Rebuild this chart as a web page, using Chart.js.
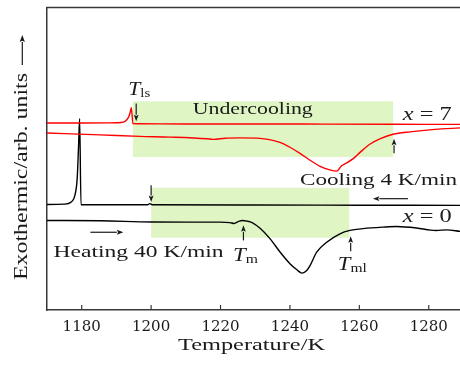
<!DOCTYPE html>
<html><head><meta charset="utf-8">
<script src="https://cdn.jsdelivr.net/npm/chart.js@4.4.1/dist/chart.umd.min.js"></script>
<style>html,body{margin:0;padding:0;background:#fff;overflow:hidden}#wrap{width:460px;height:365px}</style>
</head><body><div id="wrap"><canvas id="c" width="460" height="365" style="width:460px;height:365px"></canvas></div>
<script>
// ---- data (temperature in K, signal in arbitrary units) ----
const tempTicks = [1180, 1200, 1220, 1240, 1260, 1280];

const x7CoolT = [1170, 1180, 1188, 1190, 1192, 1193, 1193.6, 1194.0, 1194.3, 1194.75, 1196, 1210, 1230, 1250, 1270, 1289];
const x7CoolV = [61.8, 61.8, 61.85, 61.9, 62.1, 62.9, 64.0, 65.5, 66.9, 61.6, 61.55, 61.5, 61.5, 61.45, 61.4, 61.35];

const x7HeatT = [1170, 1185.3, 1196.8, 1205.5, 1216.1, 1217.9, 1221.3, 1225.6, 1231.4, 1233.7, 1237.1, 1240, 1242.9, 1245.8, 1248.7, 1251.5, 1253.5, 1254.8, 1256.5, 1258.5, 1260.2, 1263.0, 1265.9, 1269.7, 1274.6, 1281.8, 1289];
const x7HeatV = [58.5, 57.9, 57.4, 57.15, 56.6, 56.4, 56.8, 56.9, 56.75, 56.4, 55.4, 53.8, 51.8, 49.5, 47.5, 46.3, 45.9, 47.6, 48.7, 50.3, 52.1, 54.8, 56.6, 58.1, 58.9, 59.7, 60.2];

const x0CoolT = [1170, 1175, 1177, 1178.1, 1178.7, 1179.1, 1179.4, 1179.8, 1190, 1199.0, 1199.6, 1200.3, 1230, 1260, 1289];
const x0CoolV = [34.9, 35.0, 35.7, 38.2, 43.5, 54.4, 63.2, 34.8, 34.8, 34.8, 35.15, 34.8, 34.7, 34.65, 34.6];

const x0HeatT = [1170, 1185.3, 1200.2, 1212, 1219.9, 1222.7, 1223.9, 1225.4, 1226.4, 1227.6, 1229.1, 1231.4, 1234.3, 1237.2, 1240.0, 1242.1, 1243.4, 1244.6, 1245.8, 1247.7, 1250.6, 1254.4, 1257.3, 1261.1, 1266.9, 1270.7, 1276.5, 1280.5, 1282.2, 1285.1, 1289];
const x0HeatV = [29.6, 29.5, 29.1, 29.05, 29.05, 28.9, 28.6, 29.4, 29.6, 29.4, 28.9, 27.0, 23.5, 19.1, 15.3, 13.2, 12.2, 12.8, 14.7, 19.1, 22.4, 25.2, 26.3, 26.9, 27.4, 27.6, 27.1, 26.4, 26.3, 26.5, 26.0];

// shaded undercooling ranges [Tstart, Tend, vLow, vHigh]
const shadeX7 = [1194.75, 1269.75, 50.6, 69.0];
const shadeX0 = [1200.0, 1257.1, 23.9, 40.4];

const pts = (t, v) => t.map((x, i) => ({x, y: v[i]}));

const SERIF = '"Liberation Serif", "Times New Roman", serif';
const INK = '#1a1a1a';

function runs(ctx, parts, x, y, targetW) {
  let total = 0;
  const ws = parts.map(p => {
    ctx.font = (p.italic ? 'italic ' : '') + p.size + 'px ' + SERIF;
    const w = ctx.measureText(p.t).width; total += w; return w;
  });
  const sx = targetW / total;
  ctx.save();
  ctx.translate(x, y); ctx.scale(sx, 1);
  ctx.fillStyle = INK; ctx.textBaseline = 'alphabetic'; ctx.textAlign = 'left';
  let cx = 0;
  parts.forEach((p, i) => {
    ctx.font = (p.italic ? 'italic ' : '') + p.size + 'px ' + SERIF;
    ctx.fillText(p.t, cx, p.dy || 0); cx += ws[i];
  });
  ctx.restore();
}

function arrow(ctx, x1, y1, x2, y2, hl = 6.5, hw = 2.4) {
  const a = Math.atan2(y2 - y1, x2 - x1);
  const bx = x2 - hl * Math.cos(a), by = y2 - hl * Math.sin(a);
  ctx.save();
  ctx.strokeStyle = INK; ctx.fillStyle = INK; ctx.lineWidth = 1.2;
  ctx.beginPath(); ctx.moveTo(x1, y1); ctx.lineTo(bx, by); ctx.stroke();
  ctx.beginPath();
  ctx.moveTo(x2, y2);
  ctx.lineTo(bx + hw * Math.sin(a), by - hw * Math.cos(a));
  ctx.lineTo(bx + 1.2 * Math.cos(a), by + 1.2 * Math.sin(a));
  ctx.lineTo(bx - hw * Math.sin(a), by + hw * Math.cos(a));
  ctx.closePath(); ctx.fill();
  ctx.restore();
}

const deco = {
  id: 'deco',
  beforeDatasetsDraw(chart) {
    const {ctx, scales: {x, y}} = chart;
    ctx.save();
    ctx.fillStyle = 'rgb(223,246,196)';
    [shadeX7, shadeX0].forEach(s => {
      const l = x.getPixelForValue(s[0]), r = x.getPixelForValue(s[1]);
      const t = y.getPixelForValue(s[3]), b = y.getPixelForValue(s[2]);
      ctx.fillRect(l, t, r - l, b - t);
    });
    ctx.restore();
  },
  afterDatasetsDraw(chart) {
    const {ctx, chartArea: ca, scales: {x, y}} = chart;
    const X = v => x.getPixelForValue(v), Y = v => y.getPixelForValue(v);
    ctx.save();
    // top frame line
    ctx.strokeStyle = '#383838'; ctx.lineWidth = 1.5;
    ctx.beginPath(); ctx.moveTo(ca.left - 0.75, ca.top); ctx.lineTo(ca.right, ca.top); ctx.stroke();
    // inward tick marks
    ctx.lineWidth = 1.2;
    x.ticks.forEach(t => {
      const px = X(t.value);
      ctx.beginPath(); ctx.moveTo(px, ca.bottom); ctx.lineTo(px, ca.bottom - 5); ctx.stroke();
    });
    ctx.restore();

    // arrows (data coordinates: tail -> head)
    arrow(ctx, X(1195.7), Y(68.3), X(1195.7), Y(62.4));
    arrow(ctx, X(1270.0), Y(51.8), X(1270.0), Y(56.6));
    arrow(ctx, X(1200.0), Y(41.2), X(1200.0), Y(35.7));
    arrow(ctx, X(1226.6), Y(23.0), X(1226.6), Y(28.0));
    arrow(ctx, X(1257.5), Y(19.4), X(1257.5), Y(24.4));
    arrow(ctx, X(1274.0), Y(36.8), X(1263.9), Y(36.8));
    arrow(ctx, X(1182.5), Y(25.7), X(1192.0), Y(25.7));

    // annotation texts
    runs(ctx, [{t: 'T', size: 19, italic: true}, {t: 'ls', size: 13, dy: 2}], X(1193.4), Y(71.0), 22);
    runs(ctx, [{t: 'Undercooling', size: 17.5}], X(1212.0), Y(64.7), 120);
    runs(ctx, [{t: 'x', size: 18, italic: true}, {t: ' = 7', size: 18}], X(1272.5), Y(62.9), 49);
    runs(ctx, [{t: 'Cooling 4 K/min', size: 17.5}], X(1242.9), Y(41.2), 157);
    runs(ctx, [{t: 'x', size: 18, italic: true}, {t: ' = 0', size: 18}], X(1272.5), Y(29.05), 49);
    runs(ctx, [{t: 'Heating 40 K/min', size: 17.5}], X(1171.9), Y(17.4), 170);
    runs(ctx, [{t: 'T', size: 19, italic: true}, {t: 'm', size: 13, dy: 2}], X(1223.6), Y(16.2), 25);
    runs(ctx, [{t: 'T', size: 19, italic: true}, {t: 'ml', size: 13, dy: 2}], X(1253.8), Y(13.2), 29);

    // axis titles
    runs(ctx, [{t: 'Temperature/K', size: 17}], (ca.left + ca.right) / 2 - 75.5, 349.5, 147);

    ctx.save();
    ctx.translate(26.7, 176.5);
    ctx.rotate(-Math.PI / 2);
    runs(ctx, [{t: 'Exothermic/arb. units', size: 19}], -103.5, 0, 207);
    ctx.restore();
    arrow(ctx, 22.3, 65, 22.3, 35, 7, 2.6);
  }
};

const lineDs = (data, color) => ({
  data, borderColor: color, borderWidth: 1.4, pointRadius: 0, showLine: true,
  fill: false, cubicInterpolationMode: 'monotone'
});

new Chart(document.getElementById('c'), {
  type: 'scatter',
  data: {
    datasets: [
      lineDs(pts(x7CoolT, x7CoolV), '#ff0000'),
      lineDs(pts(x7HeatT, x7HeatV), '#ff0000'),
      lineDs(pts(x0CoolT, x0CoolV), '#000000'),
      lineDs(pts(x0HeatT, x0HeatV), '#000000')
    ]
  },
  options: {
    responsive: false, animation: false, devicePixelRatio: 1,
    layout: {padding: {top: 7.5, left: 0, right: 0, bottom: 0}},
    plugins: {legend: {display: false}, tooltip: {enabled: false}},
    scales: {
      x: {
        type: 'linear', min: 1170, max: 1289,
        afterBuildTicks: s => { s.ticks = tempTicks.map(v => ({value: v})); },
        afterFit: s => { s.height = 55; },
        grid: {display: false, drawTicks: false},
        border: {display: true, color: '#383838', width: 1.5},
        ticks: {color: INK, font: {family: '"DejaVu Serif"', size: 15}, padding: 8, maxRotation: 0, autoSkip: false,
                callback: v => String(v)}
      },
      y: {
        min: 0, max: 100,
        afterFit: s => { s.width = 47; },
        grid: {display: false, drawTicks: false},
        border: {display: true, color: '#383838', width: 1.5},
        ticks: {display: false}
      }
    }
  },
  plugins: [deco]
});
</script></body></html>
